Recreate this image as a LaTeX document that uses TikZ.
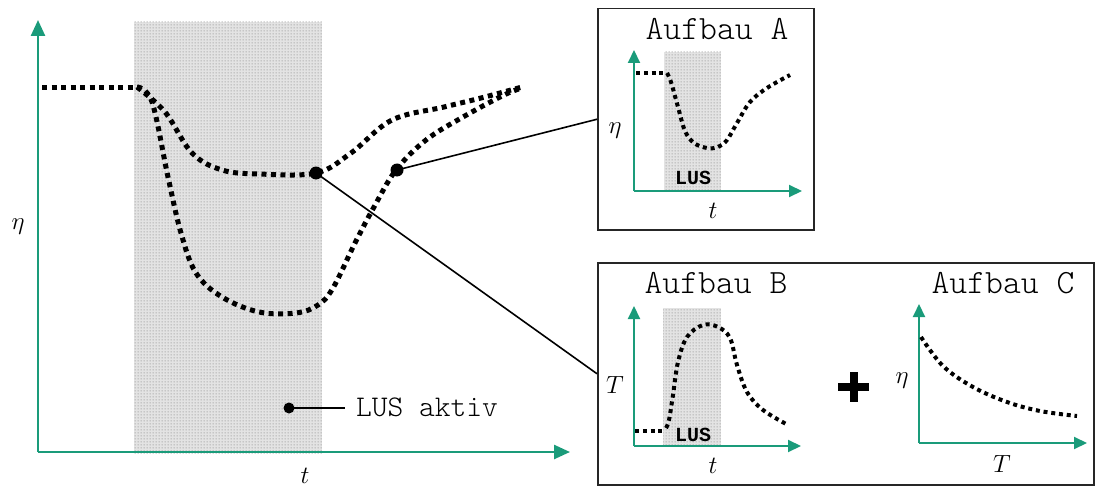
\documentclass[tikz,border=0pt]{standalone}
\usepackage{fontspec}
\setmonofont{Latin Modern Mono Light}
\newfontfamily\lusfont{Liberation Mono}
\usetikzlibrary{arrows.meta,patterns}
\definecolor{axisgreen}{RGB}{26,155,122}
\pgfdeclarepatternformonly{lusdots}{\pgfqpoint{-1pt}{-1pt}}{\pgfqpoint{2pt}{2pt}}{\pgfqpoint{3pt}{3pt}}{%
  \pgfpathcircle{\pgfqpoint{0.5pt}{0.5pt}}{0.75pt}\pgfusepath{fill}}
\begin{document}
\begin{tikzpicture}[x=1pt,y=-1pt,
  axis/.style={draw=axisgreen,line width=2.5pt,-{Triangle[length=16pt,width=14pt]}},
  saxis/.style={draw=axisgreen,line width=2pt,-{Triangle[length=13pt,width=12pt]}},
  shadebg/.style={fill=gray!22,draw=none},
  shadedots/.style={pattern=lusdots,pattern color=gray!85},
  bigdot/.style={line width=5pt,dash pattern=on 5pt off 4.5pt,line cap=butt},
  smalldot/.style={line width=4pt,dash pattern=on 4pt off 3.8pt,line cap=butt},
  conn/.style={line width=1.6pt},
  frame/.style={draw=black!85,line width=1.5pt,inner sep=0pt,anchor=north west},
  mono/.style={font=\ttfamily\fontsize{34}{34}\selectfont,inner sep=0pt,anchor=base},
  lus/.style={font=\lusfont\bfseries\fontsize{20}{20}\selectfont,inner sep=0pt,anchor=base},
  mlab/.style={font=\fontsize{30}{30}\selectfont,inner sep=0pt},
  slab/.style={font=\fontsize{25}{25}\selectfont,inner sep=0pt},
  blackdot/.style={circle,fill=black,inner sep=0pt,minimum size=#1},
]
\useasboundingbox (0,0) rectangle (1095,487);
% ---------- main plot ----------
\fill[shadebg] (134,22) rectangle (322,453);
\fill[shadedots] (134,22) rectangle (322,453);
\coordinate (mo) at (38,452);
\coordinate (my) at (38,20);
\coordinate (mx) at (570,452);
\draw[axis] (mo) -- (my);
\draw[axis] (mo) -- (mx);
\node[mlab] (meta) at (18,227) {$\eta$};
\node[mlab,anchor=base] (mt) at (305,483) {$t$};
% curves
\draw[bigdot] (42,87) -- (137,87);
\draw[bigdot] plot[smooth,tension=0.6] coordinates {(137,87) (165,112) (192,153) (222,170) (259,174) (316,173) (351,153) (392,120) (444,107) (481,98) (522,87)};
\draw[bigdot] plot[smooth,tension=0.6] coordinates {(137,87) (152,102) (168,177) (181,233) (196,273) (222,297) (259,312) (296,313) (318,305) (333,288) (355,243) (374,207) (396,170) (426,140) (463,117) (504,95) (522,88)};
\node[blackdot=13pt] (d1) at (316,173) {};
\node[blackdot=13pt] (d2) at (397,170) {};
% LUS aktiv
\node[blackdot=11pt] (d3) at (289,408) {};
\coordinate (lusend) at (345,408);
\draw[conn] (d3.center) -- (lusend);
\node[font=\ttfamily\fontsize{30}{30}\selectfont,inner sep=0pt,anchor=base west] (lusaktiv) at (356,416) {LUS aktiv};
% ---------- box A ----------
\node[frame,minimum width=216pt,minimum height=221pt] (boxA) at (597,8) {};
\node[mono] (titleA) at (717,40) {Aufbau A};
\fill[shadebg] (664,52) rectangle (721,191);
\fill[shadedots] (664,52) rectangle (721,191);
\coordinate (ao) at (634,191);
\coordinate (ay) at (634,50);
\coordinate (ax) at (802,191);
\draw[saxis] (ao) -- (ay);
\draw[saxis] (ao) -- (ax);
\draw[smalldot] (636,73) -- (667,73);
\draw[smalldot] plot[smooth,tension=0.6] coordinates {(667,73) (671,82) (678,107) (685,131) (694,143) (707,148) (718,147) (727,140) (737,123) (750,102) (767,88) (790,75)};
\node[slab] (aeta) at (615,131) {$\eta$};
\node[slab,anchor=base] (at) at (713,218) {$t$};
\node[lus] (alus) at (693,184) {LUS};
% ---------- box B ----------
\node[frame,minimum width=496pt,minimum height=222pt] (boxB) at (597,262) {};
\node[mono] (titleB) at (716,293) {Aufbau B};
\node[mono] (titleC) at (1003,293) {Aufbau C};
\fill[shadebg] (663,308) rectangle (721,446);
\fill[shadedots] (663,308) rectangle (721,446);
\coordinate (bo) at (634,446);
\coordinate (by) at (634,306);
\coordinate (bx) at (801,446);
\draw[saxis] (bo) -- (by);
\draw[saxis] (bo) -- (bx);
\draw[smalldot] (635,431) -- (664,431);
\draw[smalldot] plot[smooth,tension=0.6] coordinates {(666,428) (669,420) (673,395) (678,362) (687,337) (703,325) (718,327) (730,338) (737,365) (747,392) (763,410) (788,425)};
\node[slab,anchor=base] (bT) at (615,393) {$T$};
\node[slab,anchor=base] (bt) at (713,473) {$t$};
\node[lus] (blus) at (693,441) {LUS};
% plus
\coordinate (pl) at (838,387);
\coordinate (pr) at (869,387);
\coordinate (pt) at (853.5,372);
\coordinate (pb) at (853.5,402);
\draw[line width=8pt] (pl) -- (pr);
\draw[line width=8pt] (pt) -- (pb);
% box C plot
\coordinate (co) at (919,443);
\coordinate (cy) at (919,304);
\coordinate (cx) at (1087,443);
\draw[saxis] (co) -- (cy);
\draw[saxis] (co) -- (cx);
\draw[smalldot] plot[smooth,tension=0.6] coordinates {(921,337) (943,366) (973,387) (1007,402) (1040,411) (1077,416)};
\node[slab] (ceta) at (902,381) {$\eta$};
\node[slab,anchor=base] (cT) at (1002,472) {$T$};
% ---------- connectors ----------
\draw[conn] (d2.center) -- (boxA.west);
\draw[conn] (d1.center) -- (boxB.west);
\end{tikzpicture}
\end{document}
